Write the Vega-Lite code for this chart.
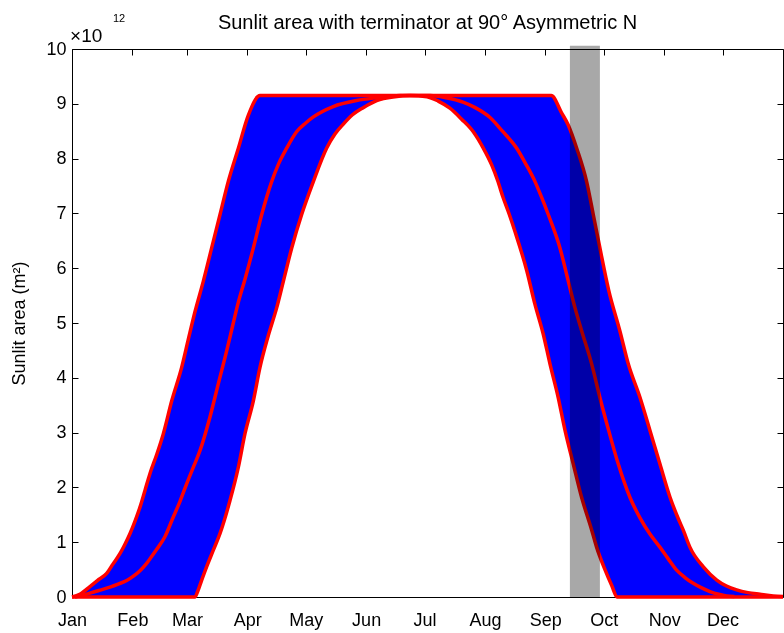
{
  "$schema": "https://vega.github.io/schema/vega-lite/v6.json",
  "width": 711,
  "height": 548,
  "autosize": {"type": "none"},
  "padding": {"left": 72, "top": 49, "right": 1, "bottom": 36},
  "background": "white",
  "config": {
    "view": {"stroke": null},
    "font": "Liberation Sans",
    "axis": {
      "domainColor": "black",
      "tickColor": "black",
      "labelColor": "black",
      "titleColor": "black",
      "labelFontSize": 18,
      "titleFontSize": 18,
      "titleFontWeight": "normal",
      "tickSize": -6,
      "grid": false,
      "zindex": 1,
      "domainWidth": 1,
      "tickWidth": 1,
      "labelFont": "Liberation Sans",
      "titleFont": "Liberation Sans"
    }
  },
  "title": {
    "text": "Sunlit area with terminator at 90° Asymmetric N",
    "fontSize": 20,
    "fontWeight": "normal",
    "font": "Liberation Sans",
    "color": "black",
    "anchor": "middle",
    "offset": 14,
    "dy": 34
  },
  "datasets": {
    "upper": [
      {"day": 0, "v": 0}, {"day": 4, "v": 0.05}, {"day": 9.2, "v": 0.19}, {"day": 13, "v": 0.3},
      {"day": 17.8, "v": 0.43}, {"day": 21, "v": 0.6}, {"day": 24.6, "v": 0.79}, {"day": 27, "v": 0.95},
      {"day": 29.8, "v": 1.16}, {"day": 32.5, "v": 1.4}, {"day": 34.9, "v": 1.64}, {"day": 37.5, "v": 1.95},
      {"day": 40, "v": 2.25}, {"day": 43.5, "v": 2.6}, {"day": 46.9, "v": 2.98}, {"day": 51.2, "v": 3.58},
      {"day": 56.3, "v": 4.19}, {"day": 59.7, "v": 4.7}, {"day": 63.1, "v": 5.2}, {"day": 67.4, "v": 5.76},
      {"day": 71.7, "v": 6.37}, {"day": 76, "v": 6.98}, {"day": 80.2, "v": 7.58}, {"day": 85.4, "v": 8.19},
      {"day": 90.5, "v": 8.79}, {"day": 96.5, "v": 9.15}, {"day": 246, "v": 9.15}, {"day": 251.4, "v": 8.83},
      {"day": 254.8, "v": 8.61}, {"day": 259.1, "v": 8.19}, {"day": 264.2, "v": 7.58}, {"day": 267.6, "v": 6.98},
      {"day": 271, "v": 6.37}, {"day": 275.5, "v": 5.6}, {"day": 281.3, "v": 4.85}, {"day": 285.6, "v": 4.25},
      {"day": 291.6, "v": 3.64}, {"day": 296.7, "v": 3.04}, {"day": 301.8, "v": 2.43}, {"day": 307, "v": 1.82},
      {"day": 311, "v": 1.45}, {"day": 313.8, "v": 1.22}, {"day": 317.2, "v": 0.91}, {"day": 324.1, "v": 0.55},
      {"day": 331, "v": 0.31}, {"day": 336, "v": 0.2}, {"day": 341.2, "v": 0.13}, {"day": 347, "v": 0.08},
      {"day": 353.2, "v": 0.05}, {"day": 360, "v": 0.02}, {"day": 365, "v": 0.01}
    ],
    "middle": [
      {"day": 1.5, "v": 0}, {"day": 5, "v": 0.03}, {"day": 9.2, "v": 0.07}, {"day": 14, "v": 0.12},
      {"day": 19.5, "v": 0.18}, {"day": 24, "v": 0.24}, {"day": 28.1, "v": 0.3}, {"day": 31.5, "v": 0.38},
      {"day": 34.9, "v": 0.48}, {"day": 38, "v": 0.6}, {"day": 40.5, "v": 0.72}, {"day": 43.5, "v": 0.87},
      {"day": 47.7, "v": 1.1}, {"day": 52, "v": 1.46}, {"day": 55.5, "v": 1.75}, {"day": 58.9, "v": 2.07},
      {"day": 62.3, "v": 2.37}, {"day": 65.7, "v": 2.67}, {"day": 70.8, "v": 3.28}, {"day": 75.1, "v": 3.89},
      {"day": 79.4, "v": 4.49}, {"day": 82.8, "v": 5.0}, {"day": 85.4, "v": 5.38}, {"day": 88.8, "v": 5.8},
      {"day": 93.1, "v": 6.37}, {"day": 97.4, "v": 6.98}, {"day": 102.5, "v": 7.58}, {"day": 106, "v": 7.9},
      {"day": 110.2, "v": 8.19}, {"day": 115.3, "v": 8.49}, {"day": 120, "v": 8.65}, {"day": 123.9, "v": 8.76},
      {"day": 134.1, "v": 8.95}, {"day": 146.1, "v": 9.06}, {"day": 156.4, "v": 9.11}, {"day": 168.4, "v": 9.15},
      {"day": 183.8, "v": 9.15}, {"day": 192, "v": 9.11}, {"day": 200.7, "v": 9.03}, {"day": 207, "v": 8.93},
      {"day": 214.6, "v": 8.75}, {"day": 221, "v": 8.5}, {"day": 228.3, "v": 8.19}, {"day": 233, "v": 7.9},
      {"day": 237.7, "v": 7.58}, {"day": 241, "v": 7.3}, {"day": 244.5, "v": 6.98}, {"day": 250.5, "v": 6.37},
      {"day": 254.8, "v": 5.76}, {"day": 258.2, "v": 5.28}, {"day": 261.7, "v": 4.85}, {"day": 266.8, "v": 4.25},
      {"day": 271, "v": 3.64}, {"day": 275.5, "v": 3.04}, {"day": 280.4, "v": 2.43}, {"day": 286.4, "v": 1.82},
      {"day": 291.5, "v": 1.45}, {"day": 296.7, "v": 1.15}, {"day": 301.8, "v": 0.91}, {"day": 306, "v": 0.7},
      {"day": 310.4, "v": 0.49}, {"day": 314.5, "v": 0.36}, {"day": 318.9, "v": 0.25}, {"day": 323, "v": 0.17},
      {"day": 327.5, "v": 0.1}, {"day": 332, "v": 0.05}, {"day": 336, "v": 0.02}, {"day": 340, "v": 0.01}
    ],
    "lower": [
      {"day": 0, "v": 0}, {"day": 63.1, "v": 0}, {"day": 64.5, "v": 0.1}, {"day": 66.5, "v": 0.3},
      {"day": 69.1, "v": 0.55}, {"day": 72.5, "v": 0.85}, {"day": 76, "v": 1.16}, {"day": 81.1, "v": 1.76},
      {"day": 85.4, "v": 2.37}, {"day": 88.8, "v": 2.98}, {"day": 93.1, "v": 3.58}, {"day": 96.5, "v": 4.19},
      {"day": 100.6, "v": 4.75}, {"day": 105.1, "v": 5.28}, {"day": 108.5, "v": 5.76}, {"day": 112.8, "v": 6.37},
      {"day": 117.9, "v": 6.98}, {"day": 123.9, "v": 7.58}, {"day": 130.7, "v": 8.19}, {"day": 135, "v": 8.45},
      {"day": 139.3, "v": 8.63}, {"day": 144, "v": 8.8}, {"day": 149.5, "v": 8.93}, {"day": 156.4, "v": 9.06},
      {"day": 165.8, "v": 9.13}, {"day": 173.5, "v": 9.15}, {"day": 182.2, "v": 9.13}, {"day": 188, "v": 9.05},
      {"day": 194, "v": 8.92}, {"day": 200, "v": 8.72}, {"day": 206, "v": 8.49}, {"day": 211, "v": 8.2},
      {"day": 215.5, "v": 7.88}, {"day": 218.5, "v": 7.6}, {"day": 221.4, "v": 7.28}, {"day": 224.5, "v": 6.98},
      {"day": 227.4, "v": 6.67}, {"day": 233.5, "v": 5.95}, {"day": 237.6, "v": 5.35}, {"day": 241.9, "v": 4.8},
      {"day": 245.4, "v": 4.25}, {"day": 249.6, "v": 3.64}, {"day": 253.1, "v": 3.04}, {"day": 257.3, "v": 2.43},
      {"day": 261.6, "v": 1.82}, {"day": 266.8, "v": 1.22}, {"day": 269.3, "v": 0.91}, {"day": 273.6, "v": 0.5},
      {"day": 277.2, "v": 0.2}, {"day": 279.8, "v": 0}, {"day": 365, "v": 0}
    ],
    "band": [{"start": 255.6, "end": 271.0, "lo": 0, "hi": 10.06}],
    "notes": [
      {"label": "×10", "day": -1, "v": 10.13, "size": "big"},
      {"label": "12", "day": 21, "v": 10.49, "size": "small"}
    ]
  },
  "layer": [
    {
      "data": {"name": "upper"},
      "mark": {"type": "area", "color": "#0000ff", "opacity": 1, "interpolate": "monotone"},
      "encoding": {
        "x": {
          "field": "day", "type": "quantitative",
          "scale": {"domain": [0, 365], "nice": false, "zero": false},
          "axis": {
            "orient": "bottom",
            "title": null,
            "values": [0, 31, 59, 90, 120, 151, 181, 212, 243, 273, 304, 334],
            "labelExpr": "['Jan','Feb','Mar','Apr','May','Jun','Jul','Aug','Sep','Oct','Nov','Dec'][indexof([0,31,59,90,120,151,181,212,243,273,304,334], datum.value)]",
            "labelPadding": 20,
            "labelFlush": false,
            "labelOverlap": false
          }
        },
        "y": {
          "field": "v", "type": "quantitative",
          "scale": {"domain": [0, 10], "nice": false},
          "axis": {
            "orient": "left",
            "title": "Sunlit area (m²)",
            "values": [0, 1, 2, 3, 4, 5, 6, 7, 8, 9, 10],
            "format": "d",
            "labelPadding": 12,
            "titlePadding": 17,
            "labelFlush": false,
            "labelOverlap": false
          }
        }
      }
    },
    {
      "data": {"name": "lower"},
      "mark": {"type": "area", "color": "white", "opacity": 1, "interpolate": "monotone"},
      "encoding": {
        "x": {
          "field": "day", "type": "quantitative",
          "scale": {"domain": [0, 365], "nice": false, "zero": false},
          "axis": {
            "orient": "top", "title": null, "labels": false,
            "values": [0, 31, 59, 90, 120, 151, 181, 212, 243, 273, 304, 334]
          }
        },
        "y": {
          "field": "v", "type": "quantitative",
          "scale": {"domain": [0, 10], "nice": false},
          "axis": {
            "orient": "right", "title": null, "labels": false,
            "values": [0, 1, 2, 3, 4, 5, 6, 7, 8, 9, 10]
          }
        }
      }
    },
    {
      "data": {"name": "upper"},
      "mark": {"type": "line", "color": "#ff0000", "strokeWidth": 3.5, "interpolate": "monotone"},
      "encoding": {
        "x": {"field": "day", "type": "quantitative", "axis": null},
        "y": {"field": "v", "type": "quantitative", "axis": null}
      }
    },
    {
      "data": {"name": "middle"},
      "mark": {"type": "line", "color": "#ff0000", "strokeWidth": 3.5, "interpolate": "monotone"},
      "encoding": {
        "x": {"field": "day", "type": "quantitative", "axis": null},
        "y": {"field": "v", "type": "quantitative", "axis": null}
      }
    },
    {
      "data": {"name": "lower"},
      "mark": {"type": "line", "color": "#ff0000", "strokeWidth": 3.5, "interpolate": "monotone"},
      "encoding": {
        "x": {"field": "day", "type": "quantitative", "axis": null},
        "y": {"field": "v", "type": "quantitative", "axis": null}
      }
    },
    {
      "data": {"name": "band"},
      "mark": {"type": "rect", "color": "#a8a8a8", "opacity": 1, "blend": "multiply"},
      "encoding": {
        "x": {"field": "start", "type": "quantitative", "axis": null},
        "x2": {"field": "end"},
        "y": {"field": "lo", "type": "quantitative", "axis": null},
        "y2": {"field": "hi"}
      }
    },
    {
      "data": {"name": "notes"},
      "transform": [{"filter": "datum.size === 'big'"}],
      "mark": {"type": "text", "align": "left", "baseline": "alphabetic", "fontSize": 19, "font": "Liberation Sans", "color": "black"},
      "encoding": {
        "x": {"field": "day", "type": "quantitative", "axis": null},
        "y": {"field": "v", "type": "quantitative", "axis": null},
        "text": {"field": "label"}
      }
    },
    {
      "data": {"name": "notes"},
      "transform": [{"filter": "datum.size === 'small'"}],
      "mark": {"type": "text", "align": "left", "baseline": "alphabetic", "fontSize": 11, "font": "Liberation Sans", "color": "black"},
      "encoding": {
        "x": {"field": "day", "type": "quantitative", "axis": null},
        "y": {"field": "v", "type": "quantitative", "axis": null},
        "text": {"field": "label"}
      }
    }
  ],
  "resolve": {"axis": {"x": "independent", "y": "independent"}}
}
